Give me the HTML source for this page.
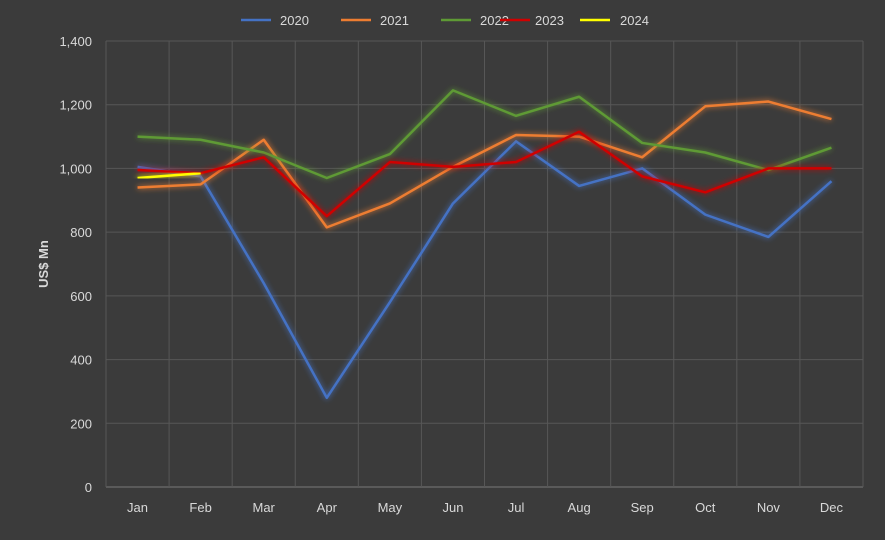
<!DOCTYPE html>
<html><head><meta charset="utf-8">
<style>
html,body{margin:0;padding:0;background:#3b3b3b;}
svg{display:block;font-family:"Liberation Sans",sans-serif;}
</style></head>
<body>
<svg id="chart" width="885" height="540">
<defs>
<filter id="glow" x="-10%" y="-10%" width="120%" height="120%">
<feGaussianBlur stdDeviation="3" result="b"/>
<feMerge><feMergeNode in="b"/><feMergeNode in="SourceGraphic"/></feMerge>
</filter>
</defs>
<rect x="0" y="0" width="885" height="540" fill="#3b3b3b"/>
<text x="48" y="264" fill="#d9d9d9" font-size="13" font-weight="bold" text-anchor="middle" transform="rotate(-90 48 264)">US$ Mn</text>
</svg>
<script>
const months = ["Jan","Feb","Mar","Apr","May","Jun","Jul","Aug","Sep","Oct","Nov","Dec"];
const yTicks = [0,200,400,600,800,1000,1200,1400];
const years = ["2020","2021","2022","2023","2024"];
const s2020 = [1005,975,640,280,580,890,1085,945,1000,855,785,960];
const s2021 = [940,950,1090,815,890,1005,1105,1100,1035,1195,1210,1155];
const s2022 = [1100,1090,1050,970,1045,1245,1165,1225,1080,1050,995,1065];
const s2023 = [995,985,1035,850,1020,1005,1020,1115,975,925,1000,1000];
const s2024 = [970,985];
const colors = ["#4472c4","#ed7d31","#5e9a35","#d00000","#ffff00"];
const series = [s2020,s2021,s2022,s2023,s2024];

const svg = document.getElementById('chart');
const NS = "http://www.w3.org/2000/svg";
const x0=106, x1=863, yTop=41, yBot=487;
const xStep=(x1-x0)/months.length;
const xs = i => x0 + xStep*(i+0.5);
const ys = v => yBot - (v/1400)*(yBot-yTop);
function el(t,a){const e=document.createElementNS(NS,t);for(const k in a)e.setAttribute(k,a[k]);svg.appendChild(e);return e;}

yTicks.forEach(v=>{
  const g=el('line',{x1:x0,x2:x1,y1:ys(v),y2:ys(v),stroke:v===0?'#7a7a7a':'#575757','stroke-width':1});
  
  
  const t=el('text',{x:92,y:ys(v)+5,fill:'#d9d9d9','font-size':13,'text-anchor':'end'});
  t.textContent=v.toLocaleString('en-US');
  
  
});
for(let i=0;i<=months.length;i++){
  const g=el('line',{x1:x0+xStep*i,x2:x0+xStep*i,y1:yTop,y2:yBot,stroke:'#575757','stroke-width':1});
  
  
}
months.forEach((m,i)=>{
  const t=el('text',{x:xs(i),y:512,fill:'#d9d9d9','font-size':13,'text-anchor':'middle'});
  t.textContent=m;
  
  
});
series.forEach((s,k)=>{
  const p=el('polyline',{points:s.map((v,i)=>xs(i)+','+ys(v)).join(' '),fill:'none',stroke:colors[k],'stroke-width':2.5,filter:'url(#glow)','stroke-linejoin':'round'});
  
  
});
const lx=[241,341,441,500,580];
const tx=[280,380,480,535,620];
years.forEach((y,k)=>{
  const l=el('line',{x1:lx[k],x2:lx[k]+30,y1:20,y2:20,stroke:colors[k],'stroke-width':2.5});
  
  
  const t=el('text',{x:tx[k],y:25,fill:'#d9d9d9','font-size':13});
  t.textContent=y;
  
  
});
</script>
</body></html>
